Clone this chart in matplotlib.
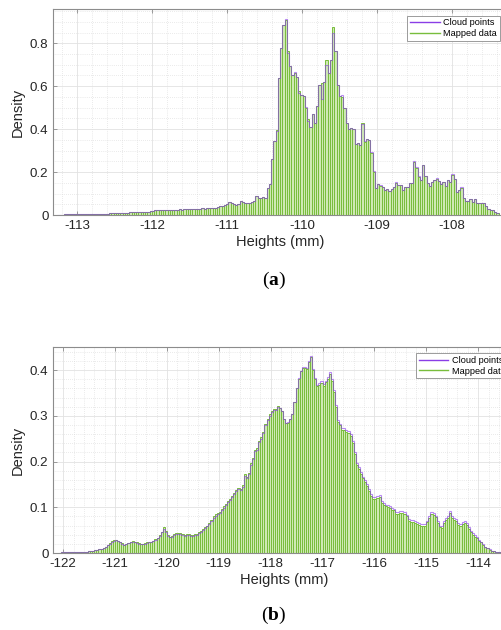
import numpy as np
import matplotlib.pyplot as plt
from matplotlib.lines import Line2D
from matplotlib.ticker import MultipleLocator, FormatStrFormatter

plt.rcParams['font.family'] = ['Liberation Sans', 'DejaVu Sans']
plt.rcParams['axes.unicode_minus'] = False
plt.rcParams['mathtext.fontset'] = 'custom'
plt.rcParams['mathtext.rm'] = 'Liberation Serif'
plt.rcParams['mathtext.bf'] = 'Liberation Serif:bold'

# histogram bins: left edge of the first bin and bin width (mm)
a_start, a_width = -113.261, 0.03
b_start, b_width = -122.08, 0.04

# (a) densities per bin
a_mapped = [
    0.002, 0.002, 0.002, 0.003, 0.003, 0.003, 0.003, 0.003, 0.004, 0.004,
    0.004, 0.004, 0.005, 0.005, 0.005, 0.005, 0.006, 0.006, 0.006, 0.006,
    0.007, 0.007, 0.007, 0.008, 0.008, 0.008, 0.009, 0.009, 0.010, 0.010,
    0.011, 0.011, 0.012, 0.012, 0.013, 0.013, 0.014, 0.015, 0.015, 0.016,
    0.016, 0.017, 0.018, 0.022, 0.023, 0.023, 0.022, 0.023, 0.024, 0.023,
    0.024, 0.025, 0.024, 0.025, 0.026, 0.025, 0.026, 0.027, 0.026, 0.027,
    0.028, 0.029, 0.028, 0.030, 0.031, 0.030, 0.031, 0.032, 0.032, 0.033,
    0.035, 0.037, 0.040, 0.044, 0.046, 0.052, 0.060, 0.056, 0.050, 0.048,
    0.050, 0.065, 0.062, 0.058, 0.058, 0.056, 0.060, 0.066, 0.088, 0.080,
    0.078, 0.082, 0.080, 0.124, 0.144, 0.260, 0.344, 0.395, 0.640, 0.780,
    0.887, 0.910, 0.763, 0.693, 0.651, 0.660, 0.643, 0.577, 0.558, 0.555,
    0.500, 0.445, 0.410, 0.470, 0.430, 0.508, 0.605, 0.617, 0.620, 0.720,
    0.660, 0.720, 0.877, 0.764, 0.605, 0.555, 0.550, 0.500, 0.430, 0.400,
    0.405, 0.400, 0.330, 0.335, 0.325, 0.430, 0.340, 0.355, 0.350, 0.290,
    0.200, 0.128, 0.144, 0.135, 0.130, 0.116, 0.120, 0.113, 0.122, 0.130,
    0.150, 0.140, 0.138, 0.116, 0.129, 0.132, 0.147, 0.147, 0.248, 0.217,
    0.178, 0.163, 0.233, 0.184, 0.147, 0.135, 0.155, 0.163, 0.167, 0.160,
    0.144, 0.153, 0.135, 0.163, 0.153, 0.186, 0.166, 0.108, 0.116, 0.126,
    0.078, 0.065, 0.067, 0.073, 0.062, 0.073, 0.057, 0.057, 0.057, 0.054,
    0.042, 0.026, 0.023, 0.023, 0.015, 0.010,
]
a_cloud = [
    0.002, 0.002, 0.002, 0.003, 0.003, 0.003, 0.003, 0.003, 0.004, 0.004,
    0.004, 0.004, 0.005, 0.005, 0.005, 0.005, 0.006, 0.006, 0.006, 0.006,
    0.007, 0.007, 0.007, 0.008, 0.008, 0.008, 0.009, 0.009, 0.010, 0.010,
    0.011, 0.011, 0.012, 0.012, 0.013, 0.013, 0.014, 0.015, 0.015, 0.016,
    0.016, 0.017, 0.018, 0.022, 0.023, 0.023, 0.022, 0.023, 0.024, 0.023,
    0.024, 0.025, 0.024, 0.025, 0.026, 0.025, 0.026, 0.027, 0.026, 0.027,
    0.028, 0.029, 0.028, 0.030, 0.031, 0.030, 0.031, 0.032, 0.032, 0.033,
    0.035, 0.037, 0.040, 0.044, 0.046, 0.052, 0.060, 0.056, 0.050, 0.048,
    0.050, 0.065, 0.062, 0.058, 0.058, 0.056, 0.060, 0.066, 0.088, 0.080,
    0.078, 0.082, 0.080, 0.124, 0.144, 0.260, 0.344, 0.390, 0.640, 0.780,
    0.887, 0.913, 0.755, 0.693, 0.651, 0.668, 0.643, 0.570, 0.558, 0.555,
    0.505, 0.440, 0.410, 0.470, 0.430, 0.508, 0.605, 0.540, 0.620, 0.700,
    0.660, 0.720, 0.850, 0.764, 0.605, 0.555, 0.558, 0.500, 0.430, 0.400,
    0.405, 0.400, 0.330, 0.335, 0.325, 0.425, 0.345, 0.355, 0.350, 0.295,
    0.205, 0.128, 0.144, 0.140, 0.130, 0.116, 0.120, 0.113, 0.122, 0.130,
    0.153, 0.140, 0.138, 0.116, 0.129, 0.132, 0.147, 0.150, 0.252, 0.222,
    0.182, 0.163, 0.233, 0.184, 0.147, 0.135, 0.155, 0.163, 0.171, 0.160,
    0.144, 0.153, 0.135, 0.163, 0.153, 0.192, 0.166, 0.108, 0.116, 0.131,
    0.078, 0.065, 0.067, 0.073, 0.062, 0.076, 0.057, 0.057, 0.057, 0.057,
    0.042, 0.026, 0.023, 0.023, 0.015, 0.010,
]

# (b) densities per bin
b_mapped = [
    0.001, 0.0015, 0.0015, 0.0015, 0.0015, 0.002, 0.002, 0.002, 0.002, 0.0025,
    0.0025, 0.003, 0.003, 0.003, 0.004, 0.004, 0.005, 0.006, 0.007, 0.008,
    0.0095, 0.011, 0.014, 0.018, 0.021, 0.026, 0.028, 0.029, 0.027, 0.024,
    0.021, 0.018, 0.020, 0.022, 0.024, 0.026, 0.025, 0.023, 0.021, 0.020,
    0.020, 0.021, 0.023, 0.024, 0.025, 0.027, 0.030, 0.033, 0.040, 0.047,
    0.056, 0.048, 0.040, 0.036, 0.038, 0.041, 0.043, 0.043, 0.043, 0.041,
    0.040, 0.042, 0.041, 0.040, 0.040, 0.041, 0.042, 0.045, 0.048, 0.052,
    0.056, 0.060, 0.066, 0.072, 0.080, 0.085, 0.088, 0.090, 0.097, 0.102,
    0.108, 0.114, 0.118, 0.125, 0.131, 0.138, 0.143, 0.140, 0.148, 0.172,
    0.167, 0.175, 0.197, 0.208, 0.226, 0.229, 0.245, 0.253, 0.265, 0.282,
    0.293, 0.303, 0.311, 0.314, 0.315, 0.322, 0.316, 0.310, 0.292, 0.284,
    0.285, 0.292, 0.303, 0.330, 0.360, 0.380, 0.397, 0.405, 0.404, 0.403,
    0.418, 0.428, 0.400, 0.380, 0.365, 0.368, 0.372, 0.365, 0.374, 0.381,
    0.392, 0.376, 0.352, 0.320, 0.286, 0.279, 0.270, 0.270, 0.265, 0.262,
    0.256, 0.240, 0.216, 0.192, 0.183, 0.173, 0.163, 0.155, 0.147, 0.135,
    0.125, 0.118, 0.118, 0.120, 0.123, 0.110, 0.105, 0.102, 0.101, 0.098,
    0.095, 0.093, 0.085, 0.086, 0.088, 0.087, 0.085, 0.080, 0.070, 0.068,
    0.068, 0.066, 0.064, 0.062, 0.059, 0.059, 0.060, 0.067, 0.076, 0.085,
    0.084, 0.078, 0.065, 0.056, 0.055, 0.066, 0.072, 0.076, 0.087, 0.076,
    0.072, 0.070, 0.062, 0.059, 0.064, 0.066, 0.062, 0.053, 0.045, 0.040,
    0.036, 0.032, 0.027, 0.023, 0.018, 0.013, 0.010, 0.007, 0.005, 0.004,
    0.003, 0.003, 0.002, 0.0015,
]
b_cloud = [
    0.001, 0.0015, 0.0015, 0.0015, 0.0015, 0.002, 0.002, 0.002, 0.002, 0.0025,
    0.0025, 0.003, 0.003, 0.003, 0.004, 0.004, 0.005, 0.006, 0.007, 0.008,
    0.0095, 0.011, 0.013, 0.017, 0.020, 0.025, 0.027, 0.028, 0.026, 0.023,
    0.020, 0.017, 0.019, 0.021, 0.023, 0.025, 0.024, 0.022, 0.020, 0.019,
    0.019, 0.020, 0.022, 0.023, 0.024, 0.026, 0.029, 0.032, 0.038, 0.045,
    0.052, 0.046, 0.038, 0.034, 0.036, 0.039, 0.041, 0.041, 0.041, 0.039,
    0.038, 0.040, 0.039, 0.038, 0.038, 0.039, 0.040, 0.043, 0.046, 0.050,
    0.054, 0.058, 0.063, 0.070, 0.077, 0.082, 0.086, 0.088, 0.094, 0.099,
    0.105, 0.111, 0.115, 0.122, 0.128, 0.135, 0.140, 0.137, 0.145, 0.168,
    0.164, 0.172, 0.193, 0.205, 0.222, 0.226, 0.242, 0.250, 0.262, 0.279,
    0.290, 0.300, 0.309, 0.312, 0.313, 0.320, 0.318, 0.311, 0.294, 0.285,
    0.286, 0.293, 0.304, 0.331, 0.361, 0.382, 0.399, 0.407, 0.406, 0.405,
    0.420, 0.430, 0.402, 0.383, 0.368, 0.371, 0.376, 0.369, 0.377, 0.385,
    0.396, 0.380, 0.356, 0.324, 0.290, 0.283, 0.274, 0.274, 0.269, 0.266,
    0.260, 0.244, 0.220, 0.196, 0.187, 0.177, 0.167, 0.159, 0.151, 0.139,
    0.129, 0.122, 0.122, 0.124, 0.127, 0.114, 0.109, 0.106, 0.105, 0.102,
    0.099, 0.097, 0.089, 0.090, 0.092, 0.091, 0.089, 0.084, 0.074, 0.072,
    0.072, 0.070, 0.068, 0.066, 0.063, 0.063, 0.064, 0.071, 0.080, 0.089,
    0.088, 0.082, 0.069, 0.060, 0.059, 0.070, 0.076, 0.080, 0.091, 0.080,
    0.076, 0.074, 0.066, 0.063, 0.068, 0.070, 0.066, 0.057, 0.049, 0.044,
    0.039, 0.035, 0.029, 0.025, 0.020, 0.014, 0.011, 0.008, 0.005, 0.004,
    0.003, 0.003, 0.002, 0.0015,
]

purple = '#8a3ee6'
green = '#78bd3c'
face = '#cfe9b4'
axis_col = '#8c8c8c'
text_col = '#262626'


def draw_hist(ax, start, width, cloud, mapped, xlim, ylim, yminor, caption, cap_y):
    edges = start + width * np.arange(len(mapped) + 1)
    centers = edges[:-1] + width / 2
    ax.bar(centers, mapped, width=width, color=face, edgecolor=green,
           linewidth=0.7, zorder=2)
    ax.stairs(cloud, edges, baseline=None, color=purple, linewidth=0.8,
              alpha=0.6, zorder=3)

    ax.set_xlim(*xlim)
    ax.set_ylim(*ylim)
    ax.xaxis.set_major_locator(MultipleLocator(1))
    ax.xaxis.set_minor_locator(MultipleLocator(0.2))
    ax.yaxis.set_minor_locator(MultipleLocator(yminor))
    ax.yaxis.set_major_formatter(FormatStrFormatter('%g'))
    ax.set_axisbelow(True)
    ax.grid(which='major', color='#e2e2e2', linewidth=0.6)
    ax.grid(which='minor', color='#d6d6d6', linewidth=0.5, linestyle=(0, (1, 2)))
    ax.tick_params(which='major', direction='in', length=3, width=0.6,
                   color=axis_col, labelcolor=text_col, labelsize=9.6,
                   top=True, right=True, pad=3.5)
    ax.tick_params(which='minor', length=0)
    for s in ax.spines.values():
        s.set_color(axis_col)
        s.set_linewidth(0.8)

    ax.set_xlabel('Heights (mm)', fontsize=10.5, color=text_col, labelpad=2.5)
    ax.set_ylabel('Density', fontsize=10.5, color=text_col, labelpad=3.5)

    # legend sits in the top right corner, partly past the page edge
    handles = [Line2D([], [], color=purple, linewidth=1),
               Line2D([], [], color=green, linewidth=1)]
    leg = ax.legend(handles, ['Cloud points', 'Mapped data'], loc='upper right',
                    fontsize=6.6, fancybox=False, framealpha=1,
                    edgecolor=axis_col, borderpad=0.3, handlelength=3.2,
                    handletextpad=0.4, labelspacing=0.15, borderaxespad=0.7)
    leg.get_frame().set_linewidth(0.6)

    fig.text(0.545, cap_y, caption, ha='center', va='center', fontsize=14)


fig = plt.figure(figsize=(5.02, 6.3), dpi=100)
ax_a = fig.add_axes([0.1062, 0.6587, 0.902, 0.3265])
ax_b = fig.add_axes([0.1062, 0.1222, 0.9197, 0.3270])

draw_hist(ax_a, a_start, a_width, a_cloud, a_mapped,
          (-113.316, -107.28), (0, 0.958), 0.05, r'$(\mathbf{a})$', 1 - 280.7 / 630)
draw_hist(ax_b, b_start, b_width, b_cloud, b_mapped,
          (-122.19, -113.29), (0, 0.4504), 0.02, r'$(\mathbf{b})$', 1 - 615 / 630)

fig.savefig('out.png', dpi=100)
